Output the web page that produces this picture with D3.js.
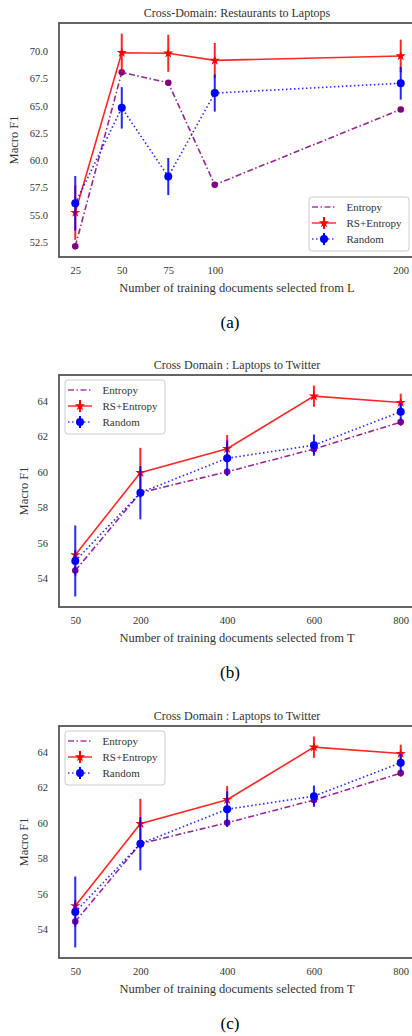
<!DOCTYPE html>
<html>
<head>
<meta charset="utf-8">
<script src="https://cdn.jsdelivr.net/npm/d3@7"></script>
<style>
  body { margin: 0; background: #fff; }
</style>
</head>
<body>
<svg id="fig" width="412" height="1036"></svg>
<script>
// panel (a): Restaurants -> Laptops
var xA = [25, 50, 75, 100, 200];
var entropyA = [52.1, 68.05, 67.1, 57.75, 64.65];
var entropyAErr = [0, 0, 0, 0, 0];
var rsA = [55.2, 69.85, 69.8, 69.15, 69.55];
var rsAErr = [2.5, 1.75, 1.7, 1.6, 1.5];
var randomA = [56.05, 64.8, 58.5, 66.15, 67.05];
var randomAErr = [2.5, 1.9, 1.7, 1.7, 1.5];
var yTicksA = [52.5, 55, 57.5, 60, 62.5, 65, 67.5, 70];

// panels (b) and (c): Laptops -> Twitter (same numbers in both)
var xB = [50, 200, 400, 600, 800];
var entropyB = [54.43, 58.82, 60.0, 61.28, 62.8];
var entropyBErr = [0.3, 0.2, 0.2, 0.3, 0.2];
var rsB = [55.31, 59.95, 61.3, 64.26, 63.9];
var rsBErr = [0.3, 1.4, 0.77, 0.6, 0.5];
var randomB = [54.97, 58.82, 60.76, 61.5, 63.38];
var randomBErr = [2.0, 1.5, 1.0, 0.6, 0.5];
var yTicksB = [54, 56, 58, 60, 62, 64];

var FONT = "'Liberation Serif', 'Times New Roman', serif";
var svg = d3.select("#fig");

function makeSeries(x, ent, entErr, rs, rsErr, rnd, rndErr) {
  function pts(v, e) { return v.map(function (d, i) { return {x: x[i], y: d, e: e[i]}; }); }
  return [
    {name: "Entropy", color: "#800080", dash: "6,2.5,1.5,2.5", marker: "dot", r: 3.3, pts: pts(ent, entErr)},
    {name: "RS+Entropy", color: "#ff0000", dash: null, marker: "star", pts: pts(rs, rsErr)},
    {name: "Random", color: "#0000ff", dash: "1.5,2.5", marker: "dot", r: 4, pts: pts(rnd, rndErr)}
  ];
}

function txt(sel) {
  return sel.style("font-family", FONT).style("fill", "#333");
}

function drawPanel(o) {
  var g = svg.append("g");
  var left = 59, right = 417;
  var xs = o.x;
  var xPad = (d3.max(xs) - d3.min(xs)) * 0.05;
  var x = d3.scaleLinear().domain([d3.min(xs) - xPad, d3.max(xs) + xPad]).range([left, right]);
  var lo = d3.min(o.series, function (s) { return d3.min(s.pts, function (p) { return p.y - p.e; }); });
  var hi = d3.max(o.series, function (s) { return d3.max(s.pts, function (p) { return p.y + p.e; }); });
  var yPad = (hi - lo) * 0.05;
  var y = d3.scaleLinear().domain([lo - yPad, hi + yPad]).range([o.bottom, o.top]);

  // ticks (no tick marks, just labels)
  var ya = g.append("g").attr("transform", "translate(" + (left - 11) + ",0)")
    .call(d3.axisLeft(y).tickValues(o.yTicks).tickFormat(d3.format(o.yFormat)).tickSize(0).tickPadding(0));
  ya.select(".domain").remove();
  txt(ya.selectAll("text")).attr("font-size", 10.5);
  var xa = g.append("g").attr("transform", "translate(0," + (o.bottom + 10) + ")")
    .call(d3.axisBottom(x).tickValues(xs).tickFormat(d3.format("d")).tickSize(0).tickPadding(0));
  xa.select(".domain").remove();
  txt(xa.selectAll("text")).attr("font-size", 10.5);

  // frame
  g.append("rect").attr("x", left).attr("y", o.top).attr("width", right - left).attr("height", o.bottom - o.top)
    .attr("fill", "none").attr("stroke", "#555").attr("stroke-width", 1.8);

  var line = d3.line().x(function (p) { return x(p.x); }).y(function (p) { return y(p.y); });
  var star = d3.symbol().type(d3.symbolStar).size(32);

  o.series.forEach(function (s) {
    var sg = g.append("g");
    sg.selectAll("line.err").data(s.pts.filter(function (p) { return p.e > 0; })).enter().append("line")
      .attr("x1", function (p) { return x(p.x); }).attr("x2", function (p) { return x(p.x); })
      .attr("y1", function (p) { return y(p.y - p.e); }).attr("y2", function (p) { return y(p.y + p.e); })
      .attr("stroke", s.color).attr("stroke-width", 2).attr("opacity", 0.85);
    sg.append("path").datum(s.pts).attr("d", line).attr("fill", "none")
      .attr("stroke", s.color).attr("stroke-width", 1.6).attr("opacity", 0.85)
      .attr("stroke-dasharray", s.dash);
    if (s.marker === "star") {
      sg.selectAll("path.m").data(s.pts).enter().append("path").attr("class", "m")
        .attr("d", star).attr("transform", function (p) { return "translate(" + x(p.x) + "," + y(p.y) + ")"; })
        .attr("fill", s.color);
    } else {
      sg.selectAll("circle").data(s.pts).enter().append("circle")
        .attr("cx", function (p) { return x(p.x); }).attr("cy", function (p) { return y(p.y); })
        .attr("r", s.r).attr("fill", s.color);
    }
  });

  var mid = (left + 415) / 2;
  txt(g.append("text")).attr("x", mid).attr("y", o.top - 6).attr("text-anchor", "middle")
    .attr("font-size", 12).text(o.title);
  txt(g.append("text")).attr("x", mid).attr("y", o.bottom + 35).attr("text-anchor", "middle")
    .attr("font-size", 12.5).text(o.xlabel);
  txt(g.append("text")).attr("transform", "translate(" + o.ylabelX + "," + ((o.top + o.bottom) / 2) + ") rotate(-90)")
    .attr("text-anchor", "middle").attr("font-size", 12.5).text("Macro F1");
  txt(g.append("text")).attr("x", 230).attr("y", o.bottom + 71).attr("text-anchor", "middle")
    .attr("font-size", 17).style("fill", "#000").text(o.caption);

  // legend
  var L = o.legend;
  var lg = g.append("g").attr("transform", "translate(" + L.x + "," + L.y + ")");
  lg.append("rect").attr("width", 100).attr("height", 54).attr("rx", 3)
    .attr("fill", "#fff").attr("fill-opacity", 0.85).attr("stroke", "#ccc");
  o.series.forEach(function (s, i) {
    var cy = 10 + i * 16;
    lg.append("line").attr("x1", 3).attr("x2", 27).attr("y1", cy).attr("y2", cy)
      .attr("stroke", s.color).attr("stroke-width", 1.6).attr("stroke-dasharray", s.dash).attr("opacity", 0.75);
    if (s.name !== "Entropy") {
      lg.append("line").attr("x1", 15).attr("x2", 15).attr("y1", cy - 6).attr("y2", cy + 6)
        .attr("stroke", s.color).attr("stroke-width", 2);
      if (s.marker === "star") {
        lg.append("path").attr("d", star).attr("transform", "translate(15," + cy + ")").attr("fill", s.color);
      } else {
        lg.append("circle").attr("cx", 15).attr("cy", cy).attr("r", s.r).attr("fill", s.color);
      }
    }
    txt(lg.append("text")).attr("x", 37.5).attr("y", cy + 4).attr("font-size", 11).text(s.name);
  });
}

drawPanel({
  top: 23, bottom: 257, x: xA, yTicks: yTicksA, yFormat: ".1f", ylabelX: 18,
  title: "Cross-Domain: Restaurants to Laptops",
  xlabel: "Number of training documents selected from L", caption: "(a)",
  series: makeSeries(xA, entropyA, entropyAErr, rsA, rsAErr, randomA, randomAErr),
  legend: {x: 309, y: 197}
});
drawPanel({
  top: 375, bottom: 607, x: xB, yTicks: yTicksB, yFormat: "d", ylabelX: 28,
  title: "Cross Domain : Laptops to Twitter",
  xlabel: "Number of training documents selected from T", caption: "(b)",
  series: makeSeries(xB, entropyB, entropyBErr, rsB, rsBErr, randomB, randomBErr),
  legend: {x: 65, y: 380}
});
drawPanel({
  top: 726, bottom: 958, x: xB, yTicks: yTicksB, yFormat: "d", ylabelX: 28,
  title: "Cross Domain : Laptops to Twitter",
  xlabel: "Number of training documents selected from T", caption: "(c)",
  series: makeSeries(xB, entropyB, entropyBErr, rsB, rsBErr, randomB, randomBErr),
  legend: {x: 65, y: 731}
});
</script>
</body>
</html>
